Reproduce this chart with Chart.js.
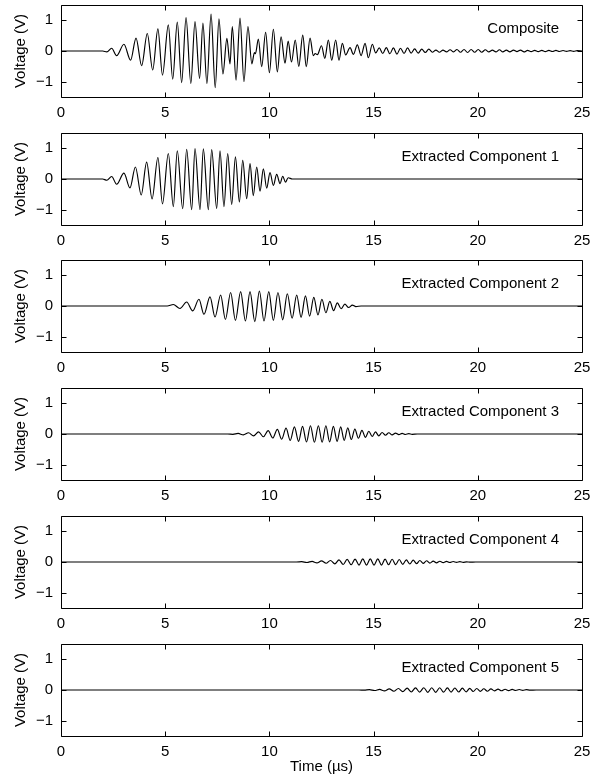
<!DOCTYPE html>
<html><head><meta charset="utf-8">
<script src="https://cdn.jsdelivr.net/npm/chart.js@4.4.1/dist/chart.umd.min.js"></script>
<style>
html,body{margin:0;padding:0;background:#fff;}
#wrap{position:relative;width:604px;height:780px;overflow:hidden;}
canvas{position:absolute;left:0;}
</style></head><body><div id="wrap"></div>
<script>
const timeTicks=[0,5,10,15,20,25];
const voltTicks=[-1,0,1];
const panelLabels=["Composite","Extracted Component 1","Extracted Component 2","Extracted Component 3","Extracted Component 4","Extracted Component 5"];
const yTitle="Voltage (V)";
const xTitle="Time (\u00b5s)";

// Composite: times (us) and voltages (V) of turning points
const compositeT=[0,2.0,2.2,2.43,2.67,3.02,3.34,3.6,3.87,4.14,4.4,4.65,4.87,5.15,5.36,5.58,5.79,6.0,6.23,6.43,6.65,6.81,7.0,7.2,7.4,7.58,7.77,7.96,8.11,8.22,8.4,8.59,8.78,8.97,9.16,9.28,9.33,9.47,9.63,9.82,10.0,10.19,10.38,10.56,10.75,10.9,11.06,11.24,11.41,11.6,11.77,11.95,12.11,12.2,12.3,12.5,12.66,12.83,12.99,13.18,13.34,13.5,13.66,13.87,14.03,14.22,14.4,14.59,14.75,14.94,15.1,15.27,15.44,15.61,15.78,15.95,16.12,16.29,16.46,16.63,16.8,16.97,17.14,17.31,17.48,17.65,17.82,17.99,18.16,18.33,18.5,18.67,18.84,19.0,19.17,19.34,19.51,19.68,19.85,20.02,20.19,20.36,20.53,20.7,20.87,21.04,21.2,21.37,21.54,21.71,21.88,22.05,22.22,22.39,22.56,22.73,22.9,23.07,23.24,23.41,23.58,23.75,23.92,24.09,24.26,24.43,24.6,24.77,25];
const compositeV=[0,0,-0.03,0.09,-0.15,0.22,-0.30,0.42,-0.48,0.57,-0.62,0.72,-0.79,0.85,-0.92,0.94,-1.03,1.09,-1.06,0.96,-0.90,0.91,-1.06,1.2,-1.2,1.05,-0.75,0.41,-0.42,0.8,-0.95,1.07,-1.0,0.8,-0.42,-0.05,-0.09,0.39,-0.51,0.61,-0.71,0.71,-0.68,0.46,-0.40,0.32,-0.36,0.36,-0.50,0.52,-0.51,0.42,-0.15,-0.08,-0.12,0.17,-0.24,0.36,-0.30,0.36,-0.30,0.25,-0.13,0.11,-0.11,0.2,-0.15,0.25,-0.22,0.22,-0.06,0.1,-0.08,0.11,-0.09,0.1,-0.1,0.09,-0.08,0.1,-0.07,0.07,-0.07,0.06,-0.05,0.06,-0.04,0.03,-0.04,0.03,-0.03,0.04,-0.03,0.05,-0.04,0.05,-0.05,0.05,-0.04,0.05,-0.04,0.04,-0.03,0.03,-0.03,0.04,-0.03,0.03,-0.03,0.03,-0.02,0.03,-0.03,0.02,-0.02,0.02,-0.02,0.02,-0.02,0.02,-0.015,0.02,-0.015,0.015,-0.01,0.01,-0.01,0.01,0];

const comp1T=[0,2.0,2.2,2.43,2.67,3.02,3.31,3.57,3.85,4.11,4.37,4.65,4.87,5.15,5.39,5.58,5.84,6.03,6.27,6.43,6.67,6.83,7.07,7.23,7.47,7.63,7.82,8.0,8.19,8.37,8.56,8.72,8.91,9.07,9.23,9.39,9.55,9.71,9.87,10.03,10.19,10.35,10.51,10.64,10.77,10.9,11.1,25];
const comp1V=[0,0,-0.04,0.08,-0.17,0.19,-0.29,0.39,-0.52,0.55,-0.65,0.70,-0.81,0.83,-0.90,0.92,-0.97,0.97,-1.0,0.99,-1.0,0.98,-1.0,0.96,-0.96,0.92,-0.90,0.83,-0.83,0.72,-0.75,0.61,-0.64,0.50,-0.54,0.39,-0.40,0.33,-0.30,0.21,-0.21,0.15,-0.15,0.09,-0.10,0.04,0,0];

const comp2T=[0,5.1,5.39,5.71,6.03,6.32,6.62,6.86,7.15,7.39,7.66,7.89,8.14,8.37,8.62,8.85,9.07,9.30,9.52,9.74,9.97,10.19,10.41,10.64,10.86,11.09,11.31,11.52,11.73,11.93,12.13,12.33,12.52,12.71,12.9,13.08,13.26,13.44,13.62,13.8,13.98,14.15,14.4,25];
const comp2V=[0,0,0.05,-0.08,0.13,-0.16,0.22,-0.27,0.30,-0.36,0.36,-0.44,0.44,-0.47,0.47,-0.49,0.47,-0.51,0.49,-0.49,0.47,-0.47,0.44,-0.45,0.40,-0.40,0.36,-0.37,0.33,-0.33,0.28,-0.29,0.22,-0.22,0.15,-0.15,0.10,-0.09,0.06,-0.05,0.03,-0.02,0,0];

const comp3T=[0,8.0,8.25,8.5,8.75,9.0,9.24,9.48,9.71,9.94,10.16,10.38,10.59,10.8,11.0,11.2,11.4,11.59,11.78,11.97,12.16,12.35,12.53,12.71,12.89,13.07,13.25,13.42,13.59,13.76,13.93,14.1,14.27,14.44,14.61,14.77,14.93,15.09,15.25,15.41,15.57,15.73,15.89,16.05,16.21,16.37,16.53,16.69,16.85,17.1,25];
const comp3V=[0,0,-0.01,0.02,-0.03,0.04,-0.06,0.07,-0.09,0.11,-0.13,0.15,-0.17,0.19,-0.21,0.23,-0.24,0.25,-0.26,0.27,-0.27,0.27,-0.27,0.27,-0.26,0.25,-0.24,0.23,-0.21,0.2,-0.18,0.16,-0.14,0.12,-0.11,0.09,-0.08,0.07,-0.06,0.05,-0.04,0.04,-0.03,0.03,-0.02,0.02,-0.015,0.01,-0.01,0,0];

const comp4T=[0,11.3,11.55,11.8,12.05,12.28,12.5,12.72,12.93,13.14,13.34,13.54,13.73,13.92,14.11,14.3,14.48,14.66,14.84,15.02,15.2,15.38,15.55,15.72,15.89,16.06,16.23,16.4,16.57,16.74,16.9,17.06,17.22,17.38,17.54,17.7,17.86,18.02,18.18,18.34,18.5,18.66,18.82,18.98,19.14,19.3,19.46,19.62,19.9,25];
const comp4V=[0,0,0.01,-0.015,0.02,-0.03,0.035,-0.04,0.05,-0.06,0.07,-0.08,0.085,-0.09,0.095,-0.1,0.1,-0.1,0.1,-0.1,0.1,-0.1,0.095,-0.09,0.09,-0.085,0.08,-0.075,0.07,-0.065,0.06,-0.055,0.05,-0.045,0.04,-0.035,0.03,-0.03,0.025,-0.02,0.02,-0.015,0.015,-0.01,0.01,-0.01,0.005,-0.005,0,0];

const comp5T=[0,14.3,14.55,14.8,15.05,15.29,15.52,15.75,15.97,16.19,16.4,16.61,16.81,17.01,17.21,17.41,17.6,17.79,17.98,18.17,18.36,18.54,18.72,18.9,19.08,19.26,19.44,19.61,19.78,19.95,20.12,20.29,20.46,20.63,20.8,20.97,21.14,21.31,21.48,21.65,21.82,21.99,22.16,22.33,22.5,22.8,25];
const comp5V=[0,0,-0.005,0.01,-0.015,0.02,-0.03,0.035,-0.04,0.05,-0.055,0.06,-0.065,0.07,-0.07,0.075,-0.075,0.075,-0.075,0.075,-0.07,0.07,-0.07,0.065,-0.065,0.06,-0.06,0.055,-0.05,0.05,-0.045,0.04,-0.04,0.035,-0.03,0.03,-0.025,0.025,-0.02,0.02,-0.015,0.015,-0.01,0.01,-0.005,0,0];

const seriesT=[compositeT,comp1T,comp2T,comp3T,comp4T,comp5T];
const seriesV=[compositeV,comp1V,comp2V,comp3V,comp4V,comp5V];

const FONT="'Liberation Sans', Arial, Helvetica, sans-serif";
const FS=15;
const tops=[0,128,255,383,511,639];
const heights=[128,128,128,128,128,141];

const framePlugin={
  id:'frame',
  afterDraw(chart){
    const {ctx,chartArea:a,scales}=chart;
    ctx.save();
    ctx.strokeStyle='#000';ctx.lineWidth=1;
    const L=Math.round(a.left)+0.5,R=Math.round(a.right)+0.5,T=Math.round(a.top)+0.5,B=Math.round(a.bottom)+0.5;
    ctx.beginPath();ctx.rect(L,T,R-L,B-T);ctx.stroke();
    const tl=5;
    ctx.beginPath();
    timeTicks.forEach(v=>{const x=Math.round(scales.x.getPixelForValue(v))+0.5;ctx.moveTo(x,B);ctx.lineTo(x,B-tl);ctx.moveTo(x,T);ctx.lineTo(x,T+tl);});
    voltTicks.forEach(v=>{const y=Math.round(scales.y.getPixelForValue(v))+0.5;ctx.moveTo(L,y);ctx.lineTo(L+tl,y);ctx.moveTo(R,y);ctx.lineTo(R-tl,y);});
    ctx.stroke();
    const lbl=chart.options.plugins.frame.label;
    ctx.fillStyle='#000';ctx.font=FS+'px '+FONT;ctx.textAlign='right';ctx.textBaseline='alphabetic';
    ctx.fillText(lbl,a.right-23,a.top+27.5);
    ctx.restore();
  }
};

const wrap=document.getElementById('wrap');
for(let i=0;i<6;i++){
  const cv=document.createElement('canvas');
  cv.width=604;cv.height=heights[i];
  cv.style.width='604px';cv.style.height=heights[i]+'px';cv.style.top=tops[i]+'px';
  wrap.appendChild(cv);
  const last=(i===5);
  const pts=seriesT[i].map((t,k)=>({x:t,y:seriesV[i][k]}));
  new Chart(cv,{
    type:'line',
    data:{datasets:[{data:pts,borderColor:'#000',borderWidth:1.15,pointRadius:0,cubicInterpolationMode:'monotone',fill:false}]},
    options:{
      responsive:false,animation:false,events:[],
      layout:{padding:{left:0,right:22,top:5,bottom:0}},
      plugins:{legend:{display:false},tooltip:{enabled:false},frame:{label:panelLabels[i]}},
      scales:{
        x:{type:'linear',min:0,max:25,
          afterBuildTicks:s=>{s.ticks=timeTicks.map(v=>({value:v}));},
          afterFit:s=>{s.height=heights[i]-5-92;s.paddingLeft=0;s.paddingRight=0;},
          grid:{display:false,drawTicks:false},border:{display:false},
          ticks:{padding:7,color:'#000',font:{family:FONT,size:FS},maxRotation:0,autoSkip:false},
          title:{display:last,text:xTitle,color:'#000',font:{family:FONT,size:FS},padding:{top:0,bottom:4}}
        },
        y:{type:'linear',min:-1.5,max:1.5,
          afterBuildTicks:s=>{s.ticks=voltTicks.map(v=>({value:v}));},
          afterFit:s=>{s.width=61;s.paddingTop=0;s.paddingBottom=0;},
          grid:{display:false,drawTicks:false},border:{display:false},
          ticks:{padding:8,color:'#000',font:{family:FONT,size:FS},callback:v=>v<0?'\u2212'+Math.abs(v):String(v)},
          title:{display:true,text:yTitle,color:'#000',font:{family:FONT,size:FS},padding:{top:12,bottom:0}}
        }
      }
    },
    plugins:[framePlugin]
  });
}
</script></body></html>
